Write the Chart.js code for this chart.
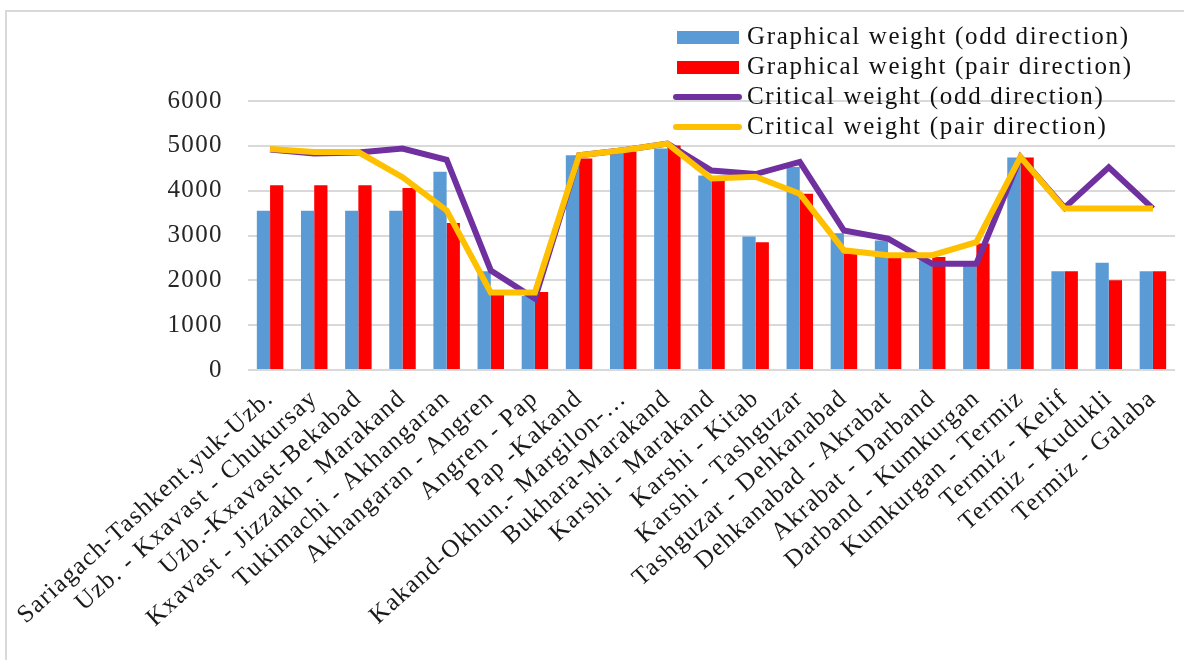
<!DOCTYPE html>
<html>
<head>
<meta charset="utf-8">
<script src="https://cdn.jsdelivr.net/npm/chart.js@4.4.1/dist/chart.umd.min.js"></script>
<style>
  html, body { margin: 0; padding: 0; background: #fff; }
  #wrap { position: relative; width: 1184px; height: 660px; overflow: hidden; }
  #frame { position: absolute; left: 5px; top: 10px; width: 1200px; height: 700px;
           border-left: 2px solid #d9d9d9; border-top: 2px solid #d9d9d9; box-sizing: border-box; }
  canvas { position: absolute; left: 0; top: 0; }
  #legend { position: absolute; left: 673px; top: 22px; font-family: 'Liberation Serif', 'Times New Roman', serif;
            font-size: 25px; letter-spacing: 1.7px; color: #111; }
  .row { position: relative; height: 30px; white-space: nowrap; }
  .sw { position: absolute; }
  .txt { position: absolute; left: 74px; top: 0px; line-height: 28px; }
</style>
</head>
<body>
<div id="wrap">
  <div id="frame"></div>
  <canvas id="c" width="1184" height="660"></canvas>
  <div id="legend"></div>
</div>
<script>
const categories = [
  "Sariagach-Tashkent.yuk-Uzb.", "Uzb. - Kxavast - Chukursay", "Uzb.-Kxavast-Bekabad",
  "Kxavast - Jizzakh - Marakand", "Tukimachi - Akhangaran", "Akhangaran - Angren",
  "Angren - Pap", "Pap -Kakand", "Kakand-Okhun.- Margilon-…", "Bukhara-Marakand",
  "Karshi - Marakand", "Karshi - Kitab", "Karshi - Tashguzar", "Tashguzar - Dehkanabad",
  "Dehkanabad - Akrabat", "Akrabat - Darband", "Darband - Kumkurgan", "Kumkurgan - Termiz",
  "Termiz - Kelif", "Termiz - Kudukli", "Termiz - Galaba"
];
const seriesNames = [
  "Graphical weight (odd direction)", "Graphical weight (pair direction)",
  "Critical weight (odd direction)", "Critical weight (pair direction)"
];
const graphicalOdd  = [3550,3550,3550,3550,4420,2200,1650,4790,4830,4940,4340,2980,4530,3050,2890,2450,2400,4740,2200,2390,2200];
const graphicalPair = [4120,4120,4120,4060,3280,1700,1740,4720,4860,5010,4230,2850,3930,2600,2550,2520,2820,4740,2200,2000,2200];
const criticalOdd   = [4920,4830,4850,4940,4690,2220,1590,4790,4900,5050,4450,4370,4640,3110,2930,2370,2370,4750,3620,4520,3600];
const criticalPair  = [4930,4860,4860,4300,3560,1730,1730,4790,4900,5050,4270,4310,3930,2670,2560,2560,2850,4750,3600,3600,3600];
const yTicks = [0,1000,2000,3000,4000,5000,6000];

const colors = ['#5B9BD5', '#FF0000', '#7030A0', '#FFC000'];
const FONT = "'Liberation Serif', 'Times New Roman', serif";
const SPACING = '1.4px';

const spacingPlugin = {
  id: 'spacing',
  beforeUpdate(chart) { chart.ctx.letterSpacing = SPACING; },
  beforeLayout(chart) { chart.ctx.letterSpacing = SPACING; },
  beforeDraw(chart) { chart.ctx.letterSpacing = SPACING; }
};

const chart = new Chart(document.getElementById('c'), {
  type: 'bar',
  data: {
    labels: categories,
    datasets: [
      { type: 'bar', label: seriesNames[0], data: graphicalOdd, backgroundColor: colors[0], order: 3,
        categoryPercentage: 0.6, barPercentage: 1.0 },
      { type: 'bar', label: seriesNames[1], data: graphicalPair, backgroundColor: colors[1], order: 3,
        categoryPercentage: 0.6, barPercentage: 1.0 },
      { type: 'line', label: seriesNames[2], data: criticalOdd, borderColor: colors[2], backgroundColor: colors[2],
        borderWidth: 6, pointRadius: 0, tension: 0, order: 2, borderJoinStyle: 'miter' },
      { type: 'line', label: seriesNames[3], data: criticalPair, borderColor: colors[3], backgroundColor: colors[3],
        borderWidth: 6, pointRadius: 0, tension: 0, order: 1, borderJoinStyle: 'miter' }
    ]
  },
  options: {
    responsive: false,
    animation: false,
    devicePixelRatio: 1,
    layout: { padding: { left: 0, right: 9, top: 101, bottom: 0 } },
    plugins: { legend: { display: false }, tooltip: { enabled: false } },
    scales: {
      x: {
        grid: { display: false },
        border: { display: false },
        ticks: {
          font: { family: FONT, size: 25 }, color: '#1a1a1a',
          minRotation: 42, maxRotation: 42, autoSkip: false, padding: 6
        },
        afterFit(scale) { scale.height = 290; scale.paddingLeft = 0; scale.paddingRight = 0; }
      },
      y: {
        min: 0, max: 6000,
        afterBuildTicks(scale) { scale.ticks = yTicks.map(v => ({ value: v })); },
        grid: { color: '#d9d9d9', lineWidth: 2, drawTicks: false },
        border: { display: false },
        ticks: { font: { family: FONT, size: 25 }, color: '#262626', padding: 25,
                 callback: (v) => String(v) },
        afterFit(scale) { scale.width = 248; }
      }
    }
  },
  plugins: [spacingPlugin]
});

// legend built from the chart's datasets
const legend = document.getElementById('legend');
chart.data.datasets.forEach((ds) => {
  const row = document.createElement('div');
  row.className = 'row';
  const sw = document.createElement('div');
  sw.className = 'sw';
  if (ds.type === 'bar') {
    Object.assign(sw.style, { left: '4px', top: '9px', width: '62px', height: '13px', background: ds.backgroundColor });
  } else {
    Object.assign(sw.style, { left: '0px', top: '12px', width: '69px', height: '6px', borderRadius: '3px', background: ds.borderColor });
  }
  const t = document.createElement('div');
  t.className = 'txt';
  t.textContent = ds.label;
  row.appendChild(sw); row.appendChild(t);
  legend.appendChild(row);
});
</script>
</body>
</html>
